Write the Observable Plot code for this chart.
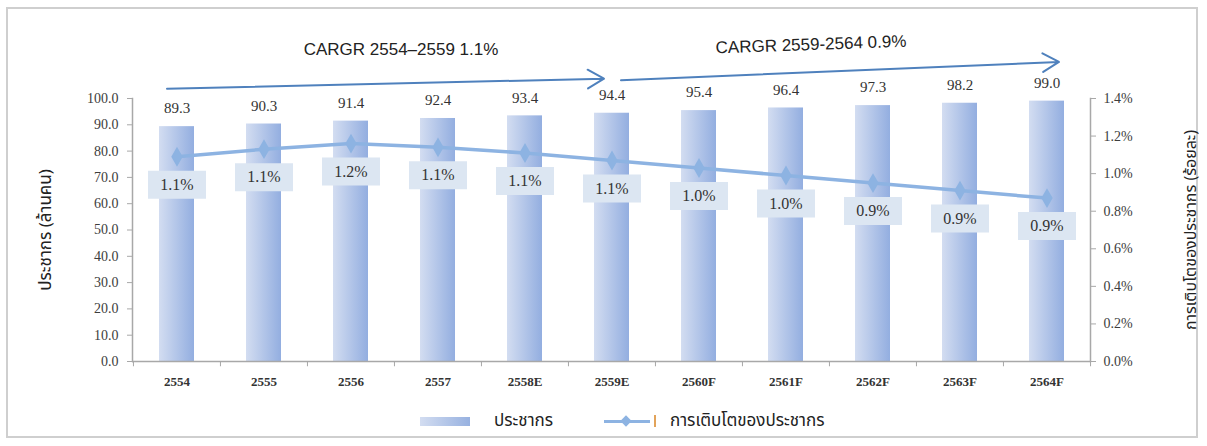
<!DOCTYPE html>
<html>
<head>
<meta charset="utf-8">
<script src="https://cdn.jsdelivr.net/npm/d3@7"></script>
<script src="https://cdn.jsdelivr.net/npm/@observablehq/plot@0.6"></script>
<style>
  body { margin: 0; background: #fff; }
  #wrap { position: relative; width: 1207px; height: 446px; overflow: hidden; }
  #frame { position: absolute; left: 6px; top: 7px; width: 1192px; height: 431px; border: 2px solid #cfcfcf; box-sizing: border-box; }
  #chart { position: absolute; left: 0; top: 0; }
  #legend { position: absolute; top: 408px; left: 0; width: 1207px; font-family: "Noto Sans Thai", "Noto Sans", "DejaVu Sans", sans-serif; font-size: 17px; color: #222; }
  .sw1 { position: absolute; left: 420px; top: 9px; width: 50px; height: 9px; background: linear-gradient(to right, #d3ddf1, #97b1e0); }
  .lb1 { position: absolute; left: 494px; top: 0px; }
  .sw2 { position: absolute; left: 604px; top: 12px; width: 46px; height: 3px; background: #8db3e2; }
  .dm { position: absolute; left: 622px; top: 9px; width: 8px; height: 8px; background: #8db3e2; transform: rotate(45deg); }
  .bar2 { position: absolute; left: 654px; top: 7px; width: 2px; height: 12px; background: #e2a35a; }
  .lb2 { position: absolute; left: 670px; top: 0px; }
</style>
</head>
<body>
<div id="wrap">
  <div id="frame"></div>
  <div id="chart"></div>
  <div id="legend">
    <div class="sw1"></div><div class="lb1">ประชากร</div>
    <div class="sw2"></div><div class="dm"></div><div class="bar2"></div><div class="lb2">การเติบโตของประชากร</div>
  </div>
</div>
<script>
const categories = ["2554","2555","2556","2557","2558E","2559E","2560F","2561F","2562F","2563F","2564F"];
const population = [89.3, 90.3, 91.4, 92.4, 93.4, 94.4, 95.4, 96.4, 97.3, 98.2, 99.0];
const growth = [1.09, 1.13, 1.16, 1.14, 1.11, 1.07, 1.03, 0.99, 0.95, 0.91, 0.87];
const growthLabels = ["1.1%","1.1%","1.2%","1.1%","1.1%","1.1%","1.0%","1.0%","0.9%","0.9%","0.9%"];
const leftTicks = [0, 10, 20, 30, 40, 50, 60, 70, 80, 90, 100];
const rightTicks = [0, 0.2, 0.4, 0.6, 0.8, 1.0, 1.2, 1.4];
const leftTitle = "ประชากร (ล้านคน)";
const rightTitle = "การเติบโตของประชากร (ร้อยละ)";
const arrow1 = [{from: "2554", to: "2559E", y1: 103.8, y2: 107.6}];
const arrow2 = [{from: "2559E", to: "2564F", y1: 106.8, y2: 113.7}];
const annotation1 = [{x: "2556", y: 118.5, text: "CARGR 2554–2559 1.1%"}];
const annotation2 = [{x: "2561F", y: 120.5, text: "CARGR 2559-2564 0.9%"}];

const k = 100 / 1.4; // growth (%) -> left-axis units
const data = categories.map((c, i) => ({cat: c, pop: population[i], g: growth[i], gl: growthLabels[i]}));

const W = 1207, H = 400;
const mL = 132, mR = 117, mT = 98, mB = 39;
const step = (W - mL - mR) / categories.length;
const serif = "'Liberation Serif', 'DejaVu Serif', serif";
const thai = "'Noto Sans Thai', 'Noto Sans', 'DejaVu Sans', sans-serif";
const sans = "'Liberation Sans', Arial, sans-serif";

const boxSymbol = { draw(ctx) { ctx.rect(-29, -14, 58, 28); } };

const chart = Plot.plot({
  width: W, height: H,
  marginLeft: mL, marginRight: mR, marginTop: mT, marginBottom: mB,
  style: {fontFamily: serif, fontSize: "13px", color: "#3d3d3d", background: "transparent"},
  x: {domain: categories, paddingInner: 0.6, paddingOuter: 0.3, label: null},
  y: {domain: [0, 100], label: null},
  marks: [
    Plot.barY(data, {x: "cat", y: "pop", fill: "url(#barGrad)"}),
    Plot.ruleY([0], {stroke: "#a8a8a8", strokeWidth: 1.5}),
    Plot.ruleX(categories, {x: d => d, y1: 0, y2: -2, dx: -step / 2, stroke: "#a8a8a8"}),
    Plot.ruleX([categories[categories.length - 1]], {x: d => d, y1: 0, y2: -2, dx: step / 2, stroke: "#a8a8a8"}),
    Plot.frame({anchor: "left", stroke: "#a8a8a8", strokeWidth: 1.5}),
    Plot.frame({anchor: "right", stroke: "#a8a8a8", strokeWidth: 1.5}),
    Plot.axisX({tickSize: 0, tickPadding: 15, fontWeight: "bold", fontSize: 13, fill: "#333"}),
    Plot.axisY({ticks: leftTicks, tickFormat: d => d.toFixed(1), tickSize: 5, tickPadding: 9, stroke: "#a8a8a8", fill: "#3d3d3d", fontSize: 14}),
    Plot.axisY({anchor: "right", ticks: rightTicks.map(v => v * k), tickFormat: d => (d / k).toFixed(1) + "%", tickSize: 5, tickPadding: 8, stroke: "#a8a8a8", fill: "#3d3d3d", fontSize: 14}),
    Plot.text(data, {x: "cat", y: "pop", text: d => d.pop.toFixed(1), dy: -18, fontSize: 15, fill: "#333", fontFamily: serif}),
    Plot.line(data, {x: "cat", y: d => d.g * k, stroke: "#8db3e2", strokeWidth: 3.5}),
    Plot.dot(data, {x: "cat", y: d => d.g * k, symbol: "diamond", r: 6, fill: "#8db3e2"}),
    Plot.dot(data, {x: "cat", y: d => d.g * k, symbol: boxSymbol, r: 5, fill: "#dce6f2", dy: 28}),
    Plot.text(data, {x: "cat", y: d => d.g * k, text: "gl", dy: 28, fontSize: 16, fill: "#333", fontFamily: serif}),
    Plot.arrow(arrow1, {x1: "from", x2: "to", y1: "y1", y2: "y2", insetStart: -10, insetEnd: 8, stroke: "#4f81bd", strokeWidth: 2, headLength: 14}),
    Plot.arrow(arrow2, {x1: "from", x2: "to", y1: "y1", y2: "y2", insetStart: 9, insetEnd: -12, stroke: "#4f81bd", strokeWidth: 2, headLength: 14}),
    Plot.text(annotation1, {x: "x", y: "y", text: "text", dx: 50, fontSize: 17, fontFamily: sans, fill: "#222"}),
    Plot.text(annotation2, {x: "x", y: "y", text: "text", dx: 25, rotate: -2, fontSize: 17, fontFamily: sans, fill: "#222"}),
    Plot.text([leftTitle], {frameAnchor: "left", text: d => d, rotate: -90, textAnchor: "middle", dx: -87, fontSize: 17, fontFamily: thai, fill: "#222"}),
    Plot.text([rightTitle], {frameAnchor: "right", text: d => d, rotate: -90, textAnchor: "middle", dx: 100, fontSize: 16, fontFamily: thai, fill: "#222"})
  ]
});

const svg = d3.select(chart);
const defs = svg.insert("defs", ":first-child");
const g = defs.append("linearGradient").attr("id", "barGrad").attr("x1", "0").attr("x2", "1").attr("y1", "0").attr("y2", "0");
g.append("stop").attr("offset", "0%").attr("stop-color", "#d3ddf1");
g.append("stop").attr("offset", "100%").attr("stop-color", "#93aee0");

document.getElementById("chart").appendChild(chart);
</script>
</body>
</html>
